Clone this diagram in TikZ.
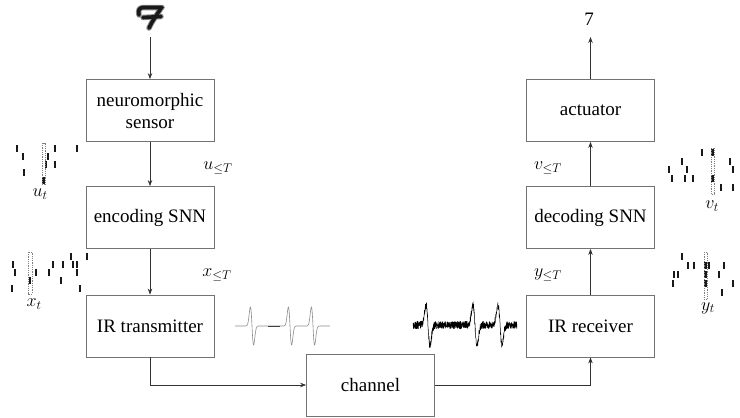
\RequirePackage{fix-cm}
\documentclass[tikz,border=0pt]{standalone}
\usepackage{fontspec}
\setmainfont{Liberation Serif}
\usetikzlibrary{arrows.meta}

% one row of spikes: #1 top of row 0, #2 row pitch, #3 list of x/row
\newcommand{\spkraster}[3]{%
  \foreach \bx/\br in {#3}{%
    \fill[spikebar] (\bx-1.1,{#1+\br*#2}) rectangle (\bx+1.1,{#1+\br*#2+7});}}

\begin{document}
\begin{tikzpicture}[x=1pt,y=-1pt,
  block/.style={draw=black!55, line width=0.8pt, minimum width=128pt,
    minimum height=62pt, inner sep=0pt, align=center,
    font=\fontsize{19}{22}\selectfont},
  link/.style={draw=black!80, line width=0.7pt,
    -{Stealth[length=6pt,width=4.5pt]}},
  lab/.style={font=\fontsize{18}{20}\selectfont, inner sep=0pt},
  spikebar/.style={fill=black!90},
  window/.style={draw=black!50, line width=0.4pt, dash pattern=on 1pt off 0.8pt},
  declare function={pls(\t)=-(\t/1.6)*exp(0.5-min(30,\t*\t/5.12));
                    plsr(\t)=-(\t/2)*exp(0.5-min(30,\t*\t/8));}]
\useasboundingbox (0,0) rectangle (740,418);

% handwritten input digit (soft edge under a dark core)
\foreach \ink/\w in {black!45/5.5pt, black!90/3.6pt}{
  \begin{scope}[draw=\ink, line width=\w, line cap=round, line join=round]
    \draw (139,15) .. controls (138,10) and (139,8) .. (143,7.5) -- (162,7.5);
    \draw (161,8) .. controls (157,15) and (152,21) .. (149,28);
    \draw (143,17.5) -- (161,16.5);
  \end{scope}}
\coordinate (digitbot) at (150,37);

% processing chain
\node[block] (sensor) at (150,110.5) {neuromorphic\\sensor};
\node[block] (enc)    at (150,217.5) {encoding SNN};
\node[block] (tx)     at (150,326)   {IR transmitter};
\node[block] (chan)   at (370.5,385) {channel};
\node[block] (rx)     at (590.5,326) {IR receiver};
\node[block] (dec)    at (590.5,217.5) {decoding SNN};
\node[block] (act)    at (590.5,110.5) {actuator};
\node[font=\fontsize{19}{22}\selectfont, inner sep=0pt] (out) at (589,19) {7};
\coordinate (outtip) at (590.5,37);

\draw[link] (digitbot) -- (sensor.north);
\draw[link] (sensor) -- (enc);
\draw[link] (enc) -- (tx);
\draw[link] (tx.south) |- (chan.west);
\draw[link] (chan.east) -| (rx.south);
\draw[link] (rx) -- (dec);
\draw[link] (dec) -- (act);
\draw[link] (act) -- (outtip);

% signal labels
\node[lab] (ule) at (218,168) {$u_{\leq T}$};
\node[lab] (xle) at (217,275) {$x_{\leq T}$};
\node[lab] (vle) at (548,168) {$v_{\leq T}$};
\node[lab] (yle) at (548,275) {$y_{\leq T}$};

% spike rasters with the current time window
\spkraster{145}{7.9}{16.7/0,22.7/1,24/3,43.5/4,47.7/1,45.7/2,55/0,55/2,76.7/0}
\draw[window] (42,143) rectangle (45,184);
\node[lab] (ut) at (40,194) {$u_t$};

\spkraster{253}{7.9}{11.7/4,12.7/1,15/2,30/3,36/2,49/2,53/1,61/3,63/1,70.7/0,73/1,76.7/1,76.7/2,80/4,86.7/0}
\draw[window] (28,252) rectangle (32,294);
\node[lab] (xt) at (34,304) {$x_t$};

\spkraster{149}{8.7}{701.7/0,712.5/0,712.5/3,682/1,669/2,671.7/3,686.7/2,685/3,693/3,721/4,730/1,732.7/2,732.7/4}
\draw[window] (711,148) rectangle (714,194);
\node[lab] (vt) at (712,206) {$v_t$};

\spkraster{253}{9}{681.7/0,687.7/1,694/1,674/2,678/2,672.7/3,705.5/1,705.5/2,705.5/3,709/1,724/1,719/2,722/4,732.7/3}
\draw[window] (704,252) rectangle (707,299);
\node[lab] (yt) at (708,308) {$y_t$};

% transmitted pulses
\draw[black!45, line width=0.6pt] plot[domain=235:330, samples=400]
  (\x,{326-19*pls(\x-252)-19*pls(\x-290)-19*pls(\x-313)});
\draw[black!75, line width=1pt] (268,326) -- (280,326);

% received noisy pulses
\pgfmathsetseed{7}
\draw[black, line width=0.5pt, line join=round] plot[domain=413:517, samples=800]
  (\x,{325+3.8*rand-20*plsr(\x-428)-20*plsr(\x-475)-20*plsr(\x-500)});
\end{tikzpicture}
\end{document}
